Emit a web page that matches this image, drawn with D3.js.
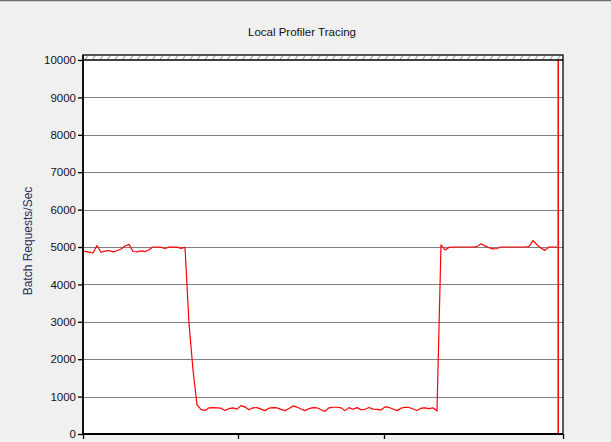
<!DOCTYPE html>
<html><head><meta charset="utf-8">
<script src="https://cdn.jsdelivr.net/npm/d3@7"></script>
<style>body{margin:0;background:#f0f0f0;} svg{display:block;}</style>
</head><body><svg id="chart" width="611" height="442"></svg>
<script>
const chartTitle = "Local Profiler Tracing";
const yAxisTitle = "Batch Requests/Sec";
const yTickValues = [0,1000,2000,3000,4000,5000,6000,7000,8000,9000,10000];
const xTickValues = [0.5, 39.25, 75.75, 120.5];
const xDomain = [0.5, 120.5];
const yDomain = [0, 10000];
const cursorSample = 119.3;
// Batch requests per second, one value per sample
const requestsPerSec = [
  4900,4885,4865,4840,5040,4860,4890,4905,4870,4900,
  4945,5025,5070,4880,4870,4895,4875,4925,5000,5000,
  4990,4960,4995,5000,4995,4965,4990,2960,1711,780,
  660,630,700,705,700,690,630,680,700,665,
  760,720,650,700,705,665,625,690,705,700,
  660,625,680,750,720,670,625,680,705,700,
  650,605,700,715,715,700,625,705,660,705,
  650,660,710,665,660,640,725,710,670,625,
  690,715,710,670,630,690,700,680,700,615,
  5060,4920,4990,5000,5000,5000,5000,5000,5000,5010,
  5085,5030,4980,4950,4960,5000,5000,5000,5000,5000,
  5000,5000,5010,5170,5060,4970,4910,5000,5000,5000
];

(function () {
const svg = d3.select("#chart");
const W = 611, H = 442;
const pL = 83, pR = 563, pT = 60, pB = 434, bandTop = 55;

const x = d3.scaleLinear().domain(xDomain).range([pL, pR]);
const y = d3.scaleLinear().domain(yDomain).range([pB, pT]);

svg.append("rect").attr("width", W).attr("height", H).attr("fill", "#f0f0f0");
svg.append("line").attr("x1", 0).attr("x2", W).attr("y1", 0.5).attr("y2", 0.5)
  .attr("stroke", "#6e6e6e").attr("stroke-width", 1.5);

const defs = svg.append("defs");
const pat = defs.append("pattern").attr("id", "hatch").attr("patternUnits", "userSpaceOnUse")
  .attr("x", pL + 1).attr("y", bandTop).attr("width", 7.5).attr("height", 5);
pat.append("rect").attr("width", 7.5).attr("height", 5).attr("fill", "#fff");
pat.append("path").attr("d", "M1,4.5 L4,0.5").attr("stroke", "#8a8a8a").attr("stroke-width", 1);
defs.append("clipPath").attr("id", "clip").append("rect")
  .attr("x", pL).attr("y", pT).attr("width", pR - pL).attr("height", pB - pT);

svg.append("rect").attr("x", pL).attr("y", pT).attr("width", pR - pL).attr("height", pB - pT).attr("fill", "#fff");
svg.append("rect").attr("x", pL).attr("y", bandTop).attr("width", pR - pL).attr("height", pT - bandTop).attr("fill", "url(#hatch)");

svg.append("g").selectAll("line").data(yTickValues.filter(v => v > yDomain[0] && v < yDomain[1]))
  .join("line")
  .attr("x1", pL).attr("x2", pR)
  .attr("y1", d => Math.round(y(d)) + 0.5).attr("y2", d => Math.round(y(d)) + 0.5)
  .attr("stroke", "#808080").attr("stroke-width", 1);

const line = d3.line().x((d, i) => x(i)).y(d => y(d));
svg.append("path").datum(requestsPerSec).attr("clip-path", "url(#clip)")
  .attr("d", line).attr("fill", "none").attr("stroke", "#ff0000").attr("stroke-width", 1.2)
  .attr("stroke-linejoin", "round");

svg.append("line").attr("x1", x(cursorSample)).attr("x2", x(cursorSample))
  .attr("y1", pT).attr("y2", pB).attr("stroke", "#ff0000").attr("stroke-width", 1.5);

svg.append("rect").attr("x", pL).attr("y", bandTop).attr("width", pR - pL).attr("height", pB - bandTop)
  .attr("fill", "none").attr("stroke", "#000").attr("stroke-width", 1.3);
svg.append("line").attr("x1", pL).attr("x2", pR).attr("y1", pT).attr("y2", pT)
  .attr("stroke", "#000").attr("stroke-width", 1.3);
svg.append("line").attr("x1", pL).attr("x2", pR).attr("y1", pB).attr("y2", pB)
  .attr("stroke", "#000").attr("stroke-width", 2);
svg.append("line").attr("x1", pL).attr("x2", pL).attr("y1", bandTop).attr("y2", pB)
  .attr("stroke", "#000").attr("stroke-width", 1.6);

const yAxis = svg.append("g").attr("transform", `translate(${pL},0)`)
  .call(d3.axisLeft(y).tickValues(yTickValues).tickSize(5).tickPadding(2).tickFormat(d3.format("d")));
yAxis.select(".domain").remove();
yAxis.selectAll(".tick line").attr("stroke", "#000").attr("stroke-width", 1.3);
yAxis.selectAll(".tick text").attr("fill", "#111122")
  .style("font-family", "'Liberation Sans', Arial, sans-serif").style("font-size", "11.5px");

const xAxis = svg.append("g").attr("transform", `translate(0,${pB})`)
  .call(d3.axisBottom(x).tickValues(xTickValues).tickSize(5).tickFormat(""));
xAxis.select(".domain").remove();
xAxis.selectAll(".tick line").attr("stroke", "#000").attr("stroke-width", 1.3);

svg.append("text").attr("x", 302).attr("y", 36).attr("text-anchor", "middle")
  .style("font-family", "'Liberation Sans', Arial, sans-serif").style("font-size", "11.5px")
  .attr("fill", "#111").text(chartTitle);

svg.append("text").attr("transform", "translate(32,241) rotate(-90)").attr("text-anchor", "middle")
  .style("font-family", "'Liberation Sans', Arial, sans-serif").style("font-size", "12px")
  .attr("fill", "#22305a").text(yAxisTitle);
})();
</script></body></html>
